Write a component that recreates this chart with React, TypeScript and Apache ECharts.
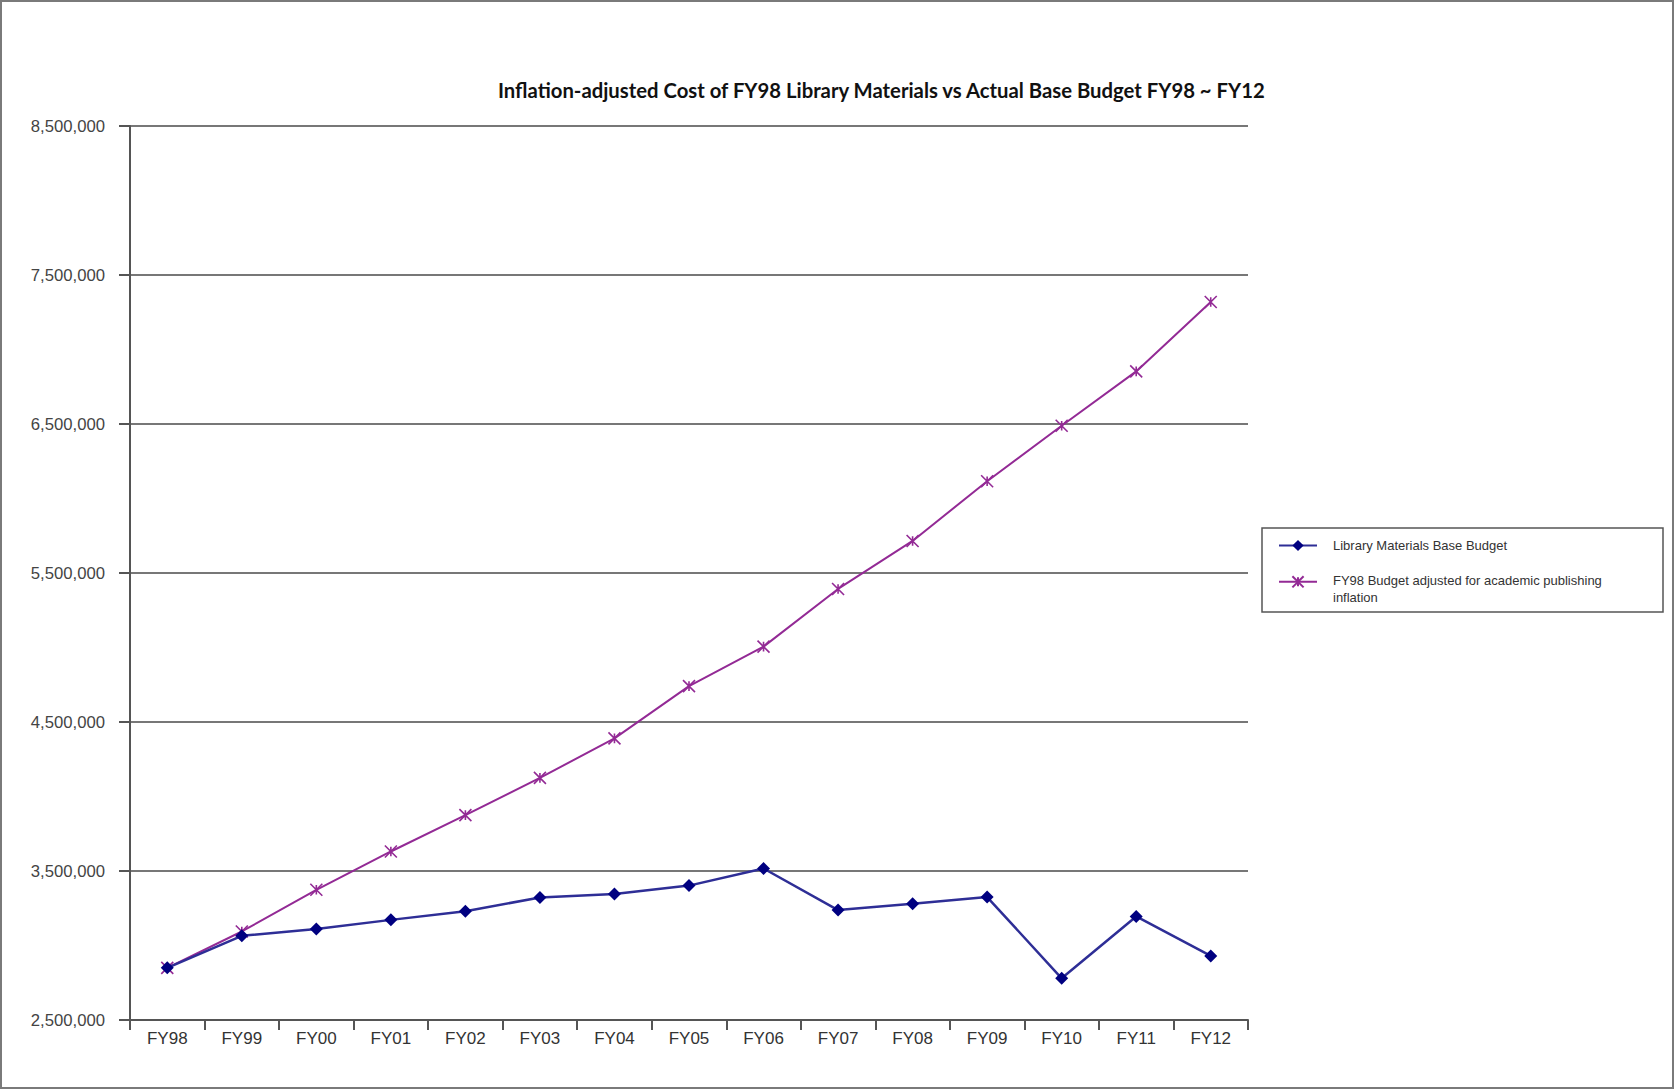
import React, { useEffect, useRef } from "react";
import * as echarts from "echarts";

// Fiscal years on the category axis
const categories = [
  "FY98", "FY99", "FY00", "FY01", "FY02", "FY03", "FY04", "FY05",
  "FY06", "FY07", "FY08", "FY09", "FY10", "FY11", "FY12",
];

// Actual library materials base budget ($)
const baseBudget = [
  2850000, 3065000, 3110000, 3172000, 3230000, 3322000, 3345000, 3402000,
  3517000, 3238000, 3281000, 3325000, 2780000, 3195000, 2930000,
];

// FY98 budget adjusted for academic publishing inflation ($)
const inflationAdjusted = [
  2850000, 3094000, 3374000, 3631000, 3875000, 4125000, 4390000, 4741000,
  5006000, 5393000, 5715000, 6116000, 6488000, 6853000, 7319000,
];

const seriesNames = [
  "Library Materials Base Budget",
  "FY98 Budget adjusted for academic publishing inflation",
];

const yMin = 2500000;
const yMax = 8500000;
const yStep = 1000000;

const BLUE_LINE = "#2e2e96";
const BLUE_MARK = "#000080";
const PURPLE = "#932a95";
const LABEL_FONT = "'Liberation Sans', Arial, sans-serif";

export default function App() {
  const ref = useRef<HTMLDivElement>(null);

  useEffect(() => {
    document.body.style.margin = "0";
    if (!ref.current) return;
    const chart = echarts.init(ref.current, null, { renderer: "svg" });

    chart.setOption({
      animation: false,
      backgroundColor: "#ffffff",
      title: {
        text: "Inflation-adjusted Cost of FY98 Library Materials vs Actual Base Budget FY98 ~ FY12",
        left: 498,
        top: 80,
        padding: 0,
        textStyle: {
          fontFamily: "Lato, 'Open Sans', sans-serif",
          fontWeight: 700,
          fontSize: 20.3,
          color: "#111111",
        },
      },
      grid: {
        left: 130,
        right: 427,
        top: 126,
        bottom: 70,
        containLabel: false,
      },
      legend: [
        {
          data: [seriesNames[0]],
          orient: "vertical",
          left: 1278,
          top: 539,
          padding: 0,
          itemWidth: 38,
          itemHeight: 14,
          textStyle: {
            fontFamily: LABEL_FONT,
            fontSize: 13,
            color: "#333333",
            padding: [0, 0, 0, 11],
          },
        },
        {
          data: [seriesNames[1]],
          orient: "vertical",
          left: 1278,
          top: 557.3,
          padding: 0,
          itemWidth: 38,
          itemHeight: 14,
          // a spacer line lowers the wrapped name so its first line sits beside the icon
          formatter: () =>
            "{s| }\n{t|FY98 Budget adjusted for academic publishing}\n{t|inflation}",
          textStyle: {
            fontFamily: LABEL_FONT,
            fontSize: 13,
            color: "#333333",
            padding: [0, 0, 0, 11],
            rich: {
              s: { fontSize: 15, lineHeight: 15 },
              t: {
                fontFamily: LABEL_FONT,
                fontSize: 13,
                lineHeight: 17,
                color: "#333333",
              },
            },
          },
        },
      ],
      xAxis: {
        type: "category",
        data: categories,
        boundaryGap: true,
        axisLine: { show: true, lineStyle: { color: "#555555", width: 2 } },
        axisTick: {
          show: true,
          interval: 0,
          length: 10,
          lineStyle: { color: "#555555", width: 2 },
        },
        axisLabel: {
          interval: 0,
          margin: 10,
          fontFamily: LABEL_FONT,
          fontSize: 17,
          color: "#333333",
        },
        splitLine: { show: false },
      },
      yAxis: {
        type: "value",
        min: yMin,
        max: yMax,
        interval: yStep,
        axisLine: { show: true, lineStyle: { color: "#555555", width: 2 } },
        axisTick: {
          show: true,
          length: 11,
          lineStyle: { color: "#555555", width: 2 },
        },
        axisLabel: {
          margin: 25,
          fontFamily: LABEL_FONT,
          fontSize: 16.7,
          color: "#444444",
          formatter: (v: number) => v.toLocaleString("en-US"),
        },
        splitLine: { show: true, lineStyle: { color: "#777777", width: 2 } },
      },
      series: [
        {
          name: seriesNames[0],
          type: "line",
          data: baseBudget,
          symbol: "diamond",
          symbolSize: 13,
          lineStyle: { color: BLUE_LINE, width: 2.5 },
          itemStyle: { color: BLUE_MARK },
          z: 3,
        },
        {
          name: seriesNames[1],
          type: "line",
          data: inflationAdjusted,
          symbol: "path://M0,0L10,10M10,0L0,10M5,1L5,9",
          symbolSize: 12,
          lineStyle: { color: PURPLE, width: 2 },
          itemStyle: { color: PURPLE, borderColor: PURPLE, borderWidth: 1.6 },
          z: 2,
        },
      ],
      graphic: [
        {
          type: "rect",
          shape: { x: 1, y: 1, width: 1672, height: 1087 },
          style: { fill: "none", stroke: "#7a7a7a", lineWidth: 2 },
          silent: true,
        },
        {
          type: "rect",
          shape: { x: 1262, y: 528, width: 401, height: 84 },
          style: { fill: "none", stroke: "#555555", lineWidth: 1.5 },
          silent: true,
        },
      ],
    });

    return () => chart.dispose();
  }, []);

  return <div ref={ref} style={{ width: 1675, height: 1090 }} />;
}
